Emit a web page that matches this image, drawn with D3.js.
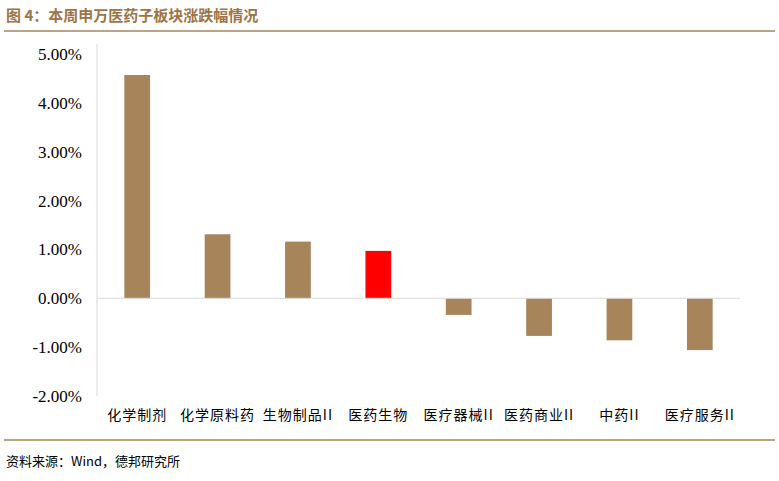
<!DOCTYPE html>
<html><head><meta charset="utf-8">
<script src="https://cdn.jsdelivr.net/npm/d3@7"></script>
<style>body{margin:0;background:#fff;font-family:"Noto Sans CJK SC",sans-serif}</style>
</head><body>
<svg id="c" width="779" height="481"></svg>
<script>
var categories = ["化学制剂","化学原料药","生物制品II","医药生物","医疗器械II","医药商业II","中药II","医疗服务II"];
var values = [4.57, 1.31, 1.16, 0.97, -0.34, -0.77, -0.86, -1.06];
var highlight = "医药生物";
var ticks = [5,4,3,2,1,0,-1,-2];

var svg = d3.select("#c");
var brown = "#a98457";

svg.append("text").attr("x", 6).attr("y", 21)
    .attr("fill", "#9c7445").attr("font-size", 15).attr("font-weight", "bold")
    .text("图 4：本周申万医药子板块涨跌幅情况");
svg.append("line").attr("x1", 4).attr("x2", 775).attr("y1", 31).attr("y2", 31)
    .attr("stroke", brown).attr("stroke-width", 1.5);
svg.append("line").attr("x1", 4).attr("x2", 775).attr("y1", 440).attr("y2", 440)
    .attr("stroke", brown).attr("stroke-width", 1.5);
svg.append("text").attr("x", 6).attr("y", 466).attr("font-size", 13).attr("fill", "#000")
    .text("资料来源：Wind，德邦研究所");

var x = d3.scaleBand().domain(categories).range([97, 740]).paddingInner(0.68).paddingOuter(0.34);
var y = d3.scaleLinear().domain([-2, 5]).range([396, 54]);

svg.append("line").attr("x1", 97).attr("x2", 97).attr("y1", 44).attr("y2", 396).attr("stroke", "#d9d9d9");

svg.selectAll(".tk").data(ticks).enter().append("text")
    .attr("x", 82).attr("y", function(d){ return y(d) + 6; })
    .attr("text-anchor", "end").attr("font-family", "Liberation Serif, serif").attr("font-size", 17)
    .text(function(d){ return d.toFixed(2) + "%"; });

svg.selectAll(".bar").data(values).enter().append("rect")
    .attr("x", function(d, i){ return x(categories[i]); })
    .attr("width", x.bandwidth())
    .attr("y", function(d){ return y(Math.max(0, d)); })
    .attr("height", function(d){ return Math.abs(y(d) - y(0)); })
    .attr("fill", function(d, i){ return categories[i] == highlight ? "#ff0000" : "#a8845a"; });

svg.append("line").attr("x1", 97).attr("x2", 740).attr("y1", y(0)).attr("y2", y(0)).attr("stroke", "#d9d9d9");

svg.selectAll(".cat").data(categories).enter().append("text")
    .attr("x", function(d){ return x(d) + x.bandwidth() / 2; }).attr("y", 420)
    .attr("text-anchor", "middle").attr("font-size", 14).attr("letter-spacing", 1)
    .text(function(d){ return d; });
</script>
</body></html>
